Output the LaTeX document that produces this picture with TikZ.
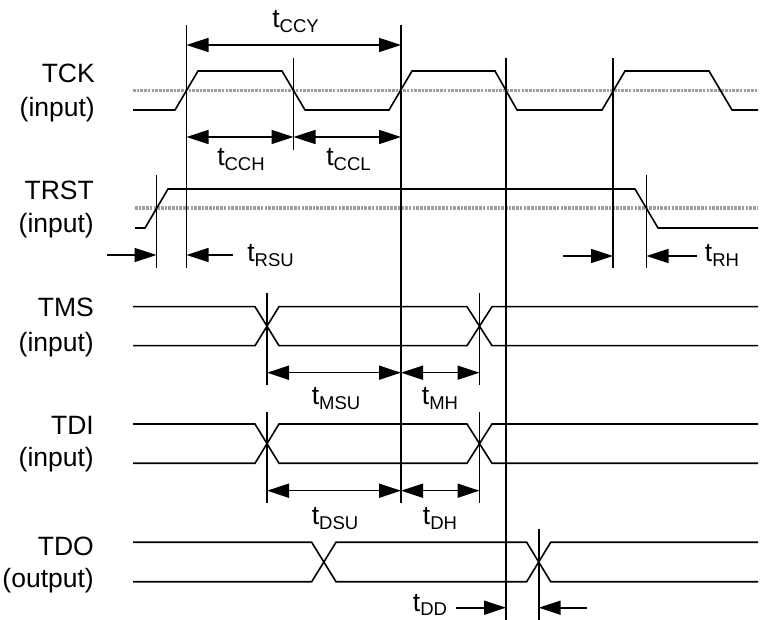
\documentclass[tikz,border=0pt]{standalone}
\usepackage{fontspec}
\setmainfont{Liberation Sans}
\usetikzlibrary{arrows.meta}
\newcommand\tlab[1]{t\raisebox{-4.5pt}{\fontsize{18.5}{19}\selectfont #1}}
\begin{document}
\begin{tikzpicture}[x=1pt,y=-1pt,
  wave/.style={line width=1.6pt, line join=miter},
  thr/.style={line width=3.2pt, draw={rgb,255:red,160;green,160;blue,160}, dash pattern=on 2.6pt off 1.1pt},
  vline/.style={line width=1.6pt},
  dim/.style={line width=1.6pt, {Triangle[length=22pt,width=14pt]}-{Triangle[length=22pt,width=14pt]}},
  dimr/.style={line width=1.6pt, -{Triangle[length=22pt,width=14pt]}},
  sig/.style={font=\fontsize{26.5}{30}\selectfont, anchor=base east, inner sep=0pt},
  tl/.style={font=\fontsize{26.5}{30}\selectfont, anchor=base, inner sep=0pt}]
\useasboundingbox (0,0) rectangle (764,620);

% ---------- signal names ----------
\node[sig] (tckA) at (95,83) {TCK};
\node[sig] (tckB) at (95,117) {(input)};
\node[sig] (trA) at (94,200) {TRST};
\node[sig] (trB) at (94,233) {(input)};
\node[sig] (tmsA) at (94,317) {TMS};
\node[sig] (tmsB) at (94,352) {(input)};
\node[sig] (tdiA) at (94,435) {TDI};
\node[sig] (tdiB) at (94,467) {(input)};
\node[sig] (tdoA) at (94,555) {TDO};
\node[sig] (tdoB) at (94,587) {(output)};

% ---------- threshold lines ----------
\coordinate (thA1) at (133,90.5); \coordinate (thA2) at (758,90.5);
\coordinate (thB1) at (135,208); \coordinate (thB2) at (758,208);
\draw[thr] (thA1) -- (thA2);
\draw[thr] (thB1) -- (thB2);

% ---------- waveforms ----------
% TCK
\draw[wave] (133,110) -- (175,110) -- (198,71) -- (282,71) -- (305,110) -- (389,110)
  -- (412,71) -- (495,71) -- (517,110) -- (602,110) -- (625,71) -- (709,71)
  -- (732,110) -- (758,110);
% TRST
\draw[wave] (135,228) -- (145,228) -- (168,189) -- (635,189) -- (658,228) -- (758,228);
% TMS
\draw[wave] (133,306.7) -- (255,306.7) -- (279,345.7) -- (467,345.7) -- (492,306.7) -- (758,306.7);
\draw[wave] (133,345.7) -- (255,345.7) -- (279,306.7) -- (467,306.7) -- (492,345.7) -- (758,345.7);
% TDI
\draw[wave] (133,424) -- (255,424) -- (279,463.3) -- (467,463.3) -- (492,424) -- (758,424);
\draw[wave] (133,463.3) -- (255,463.3) -- (279,424) -- (467,424) -- (492,463.3) -- (758,463.3);
% TDO
\draw[wave] (133,542.3) -- (311.7,542.3) -- (336,581.7) -- (526.7,581.7) -- (550.7,542.3) -- (758,542.3);
\draw[wave] (133,581.7) -- (311.7,581.7) -- (336,542.3) -- (526.7,542.3) -- (550.7,581.7) -- (758,581.7);

% ---------- reference verticals ----------
\coordinate (v1t) at (186.5,25);  \coordinate (v1b) at (186.5,268);
\coordinate (v2t) at (293.5,58);  \coordinate (v2b) at (293.5,150);
\coordinate (v3t) at (401,25);    \coordinate (v3b) at (401,503);
\coordinate (v4t) at (506,58);    \coordinate (v4b) at (506,620);
\coordinate (v5t) at (613,58);    \coordinate (v5b) at (613,268);
\coordinate (r1t) at (156.5,175); \coordinate (r1b) at (156.5,268);
\coordinate (r2t) at (646.5,175); \coordinate (r2b) at (646.5,268);
\coordinate (m1t) at (267,293);   \coordinate (m1b) at (267,385);
\coordinate (m2t) at (479.5,293); \coordinate (m2b) at (479.5,385);
\coordinate (d1t) at (267,412);   \coordinate (d1b) at (267,503);
\coordinate (d2t) at (479.5,412); \coordinate (d2b) at (479.5,503);
\coordinate (o1t) at (538.7,529); \coordinate (o1b) at (538.7,620);
\foreach \a/\b in {v1t/v1b,v2t/v2b,v3t/v3b,v4t/v4b,v5t/v5b,r1t/r1b,r2t/r2b,m1t/m1b,m2t/m2b,d1t/d1b,d2t/d2b,o1t/o1b}
  \draw[vline] (\a) -- (\b);

% ---------- dimension arrows ----------
\coordinate (ccyL) at (186.5,45);  \coordinate (ccyR) at (401,45);
\coordinate (cchL) at (186.5,137); \coordinate (cchR) at (293.5,137);
\coordinate (cclR) at (401,137);
\draw[dim] (ccyL) -- (ccyR);
\draw[dim] (cchL) -- (cchR);
\draw[dim] (cchR) -- (cclR);

\coordinate (rsuA) at (107,255); \coordinate (rsuB) at (156.5,255);
\coordinate (rsuC) at (233,255); \coordinate (rsuD) at (186.5,255);
\draw[dimr] (rsuA) -- (rsuB);
\draw[dimr] (rsuC) -- (rsuD);

\coordinate (rhA) at (563,256); \coordinate (rhB) at (613,256);
\coordinate (rhC) at (697,256); \coordinate (rhD) at (646.5,256);
\draw[dimr] (rhA) -- (rhB);
\draw[dimr] (rhC) -- (rhD);

\coordinate (msuL) at (267,372.7); \coordinate (msuR) at (401,372.7);
\coordinate (mhR) at (479.5,372.7);
\draw[dim] (msuL) -- (msuR);
\draw[dim] (msuR) -- (mhR);

\coordinate (dsuL) at (267,490.7); \coordinate (dsuR) at (401,490.7);
\coordinate (dhR) at (479.5,490.7);
\draw[dim] (dsuL) -- (dsuR);
\draw[dim] (dsuR) -- (dhR);

\coordinate (ddA) at (456,607.7); \coordinate (ddB) at (506,607.7);
\coordinate (ddC) at (587,607.7); \coordinate (ddD) at (538.7,607.7);
\draw[dimr] (ddA) -- (ddB);
\draw[dimr] (ddC) -- (ddD);

% ---------- timing labels ----------
\node[tl] (lccy) at (295.5,28) {\tlab{CCY}};
\node[tl] (lcch) at (241,166) {\tlab{CCH}};
\node[tl] (lccl) at (348.5,166) {\tlab{CCL}};
\node[tl] (lrsu) at (270.5,262) {\tlab{RSU}};
\node[tl] (lrh) at (722,262) {\tlab{RH}};
\node[tl] (lmsu) at (336,405) {\tlab{MSU}};
\node[tl] (lmh) at (440,405) {\tlab{MH}};
\node[tl] (ldsu) at (335,525) {\tlab{DSU}};
\node[tl] (ldh) at (440,525) {\tlab{DH}};
\node[tl] (ldd) at (430,611) {\tlab{DD}};
\end{tikzpicture}
\end{document}
